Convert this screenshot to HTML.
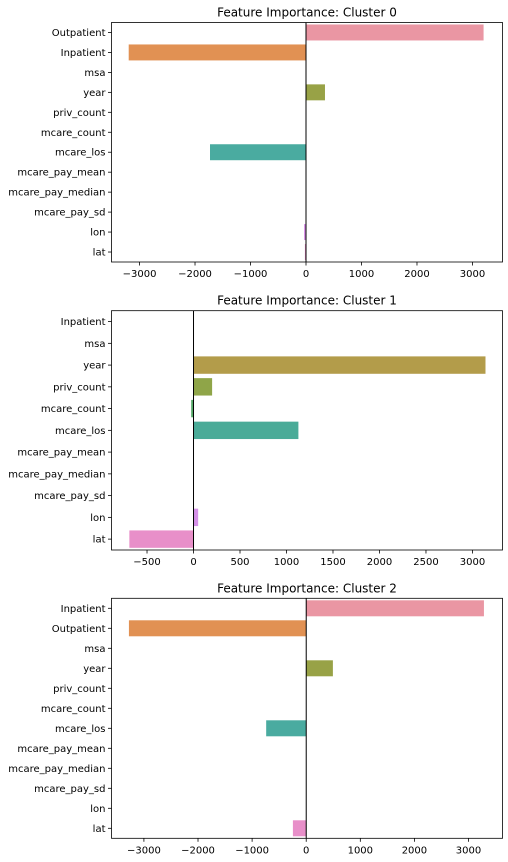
<!DOCTYPE html>
<html><head><meta charset="utf-8"><style>
html,body{margin:0;padding:0;background:#fff}
svg{display:block;font-family:"DejaVu Sans","Liberation Sans",sans-serif}
</style></head><body>
<svg id="chart" width="508" height="862"></svg>
<script>
const cats0 = ["Outpatient","Inpatient","msa","year","priv_count","mcare_count","mcare_los","mcare_pay_mean","mcare_pay_median","mcare_pay_sd","lon","lat"];
const vals0 = [3200,-3195,3,342,0,4,-1730,4,0,0,-35,-20];
const ticks0 = [-3000,-2000,-1000,0,1000,2000,3000];
const cats1 = ["Inpatient","msa","year","priv_count","mcare_count","mcare_los","mcare_pay_mean","mcare_pay_median","mcare_pay_sd","lon","lat"];
const vals1 = [0,0,3140,200,-25,1128,4,0,0,50,-690];
const ticks1 = [-500,0,500,1000,1500,2000,2500,3000];
const cats2 = ["Inpatient","Outpatient","msa","year","priv_count","mcare_count","mcare_los","mcare_pay_mean","mcare_pay_median","mcare_pay_sd","lon","lat"];
const vals2 = [3285,-3277,3,493,3,0,-740,0,4,0,0,-246];
const ticks2 = [-3000,-2000,-1000,0,1000,2000,3000];

const pal12 = ["#ea96a3","#e19153","#b39c4a","#98a246","#5fa948","#50ab7e","#4aaba0","#4da5b8","#5aa0d6","#a49ee8","#d98fe8","#e88fc9"];
const pal11 = ["#ea96a3","#e19153","#b39c4a","#8fa548","#55a868","#4aab98","#4da6b5","#56a0d8","#9b9de9","#d591e8","#e88fc9"];

const NS="http://www.w3.org/2000/svg";
const svg=document.getElementById('chart');
function mk(tag,attrs,parent){const e=document.createElementNS(NS,tag);for(const k in attrs)e.setAttribute(k,attrs[k]);(parent||svg).appendChild(e);return e;}

function panel(idx,title,cats,vals,ticks,pal,top,bottom,xmin,xmax){
  const L=111.5,R=502.5;
  const g=mk('g',{});
  
  
  const x=v=>L+(v-xmin)/(xmax-xmin)*(R-L);
  const band=(bottom-top)/cats.length;
  const t=mk('text',{x:(L+R)/2,y:top-6,'text-anchor':'middle','font-size':12,fill:'#000'},g);
  t.textContent=title;
  
  
  cats.forEach((c,i)=>{
    const v=vals[i];
    const cy=top+band*(i+0.5);
    const x0=x(Math.min(0,v)),x1=x(Math.max(0,v));
    const r=mk('rect',{x:x0,y:cy-band*0.4,width:Math.max(0,x1-x0),height:band*0.8,fill:pal[i%pal.length]},g);
    
    
    mk('line',{x1:L-3.5,x2:L,y1:cy,y2:cy,stroke:'#000','stroke-width':0.8},g);
    const lt=mk('text',{x:L-6,y:cy+3.5,'text-anchor':'end','font-size':10,fill:'#000'},g);
    lt.textContent=c;
    
    
  });
  const z=mk('line',{x1:x(0),x2:x(0),y1:top,y2:bottom,stroke:'#000','stroke-width':1},g);
  
  
  ticks.forEach(tv=>{
    const tx=x(tv);
    mk('line',{x1:tx,x2:tx,y1:bottom,y2:bottom+3.5,stroke:'#000','stroke-width':0.8},g);
    const tt=mk('text',{x:tx,y:bottom+15,'text-anchor':'middle','font-size':10,fill:'#000'},g);
    tt.textContent=(tv<0?'\u2212'+Math.abs(tv):String(tv));
    
    
  });
  const f=mk('rect',{x:L,y:top,width:R-L,height:bottom-top,fill:'none',stroke:'#000','stroke-width':0.8},g);
  
  
}
panel(0,'Feature Importance: Cluster 0',cats0,vals0,ticks0,pal12,22.5,262,-3505,3541);
panel(1,'Feature Importance: Cluster 1',cats1,vals1,ticks1,pal11,310.7,550,-882,3323);
panel(2,'Feature Importance: Cluster 2',cats2,vals2,ticks2,pal12,598.3,838.3,-3599,3628);
</script>
</body></html>
